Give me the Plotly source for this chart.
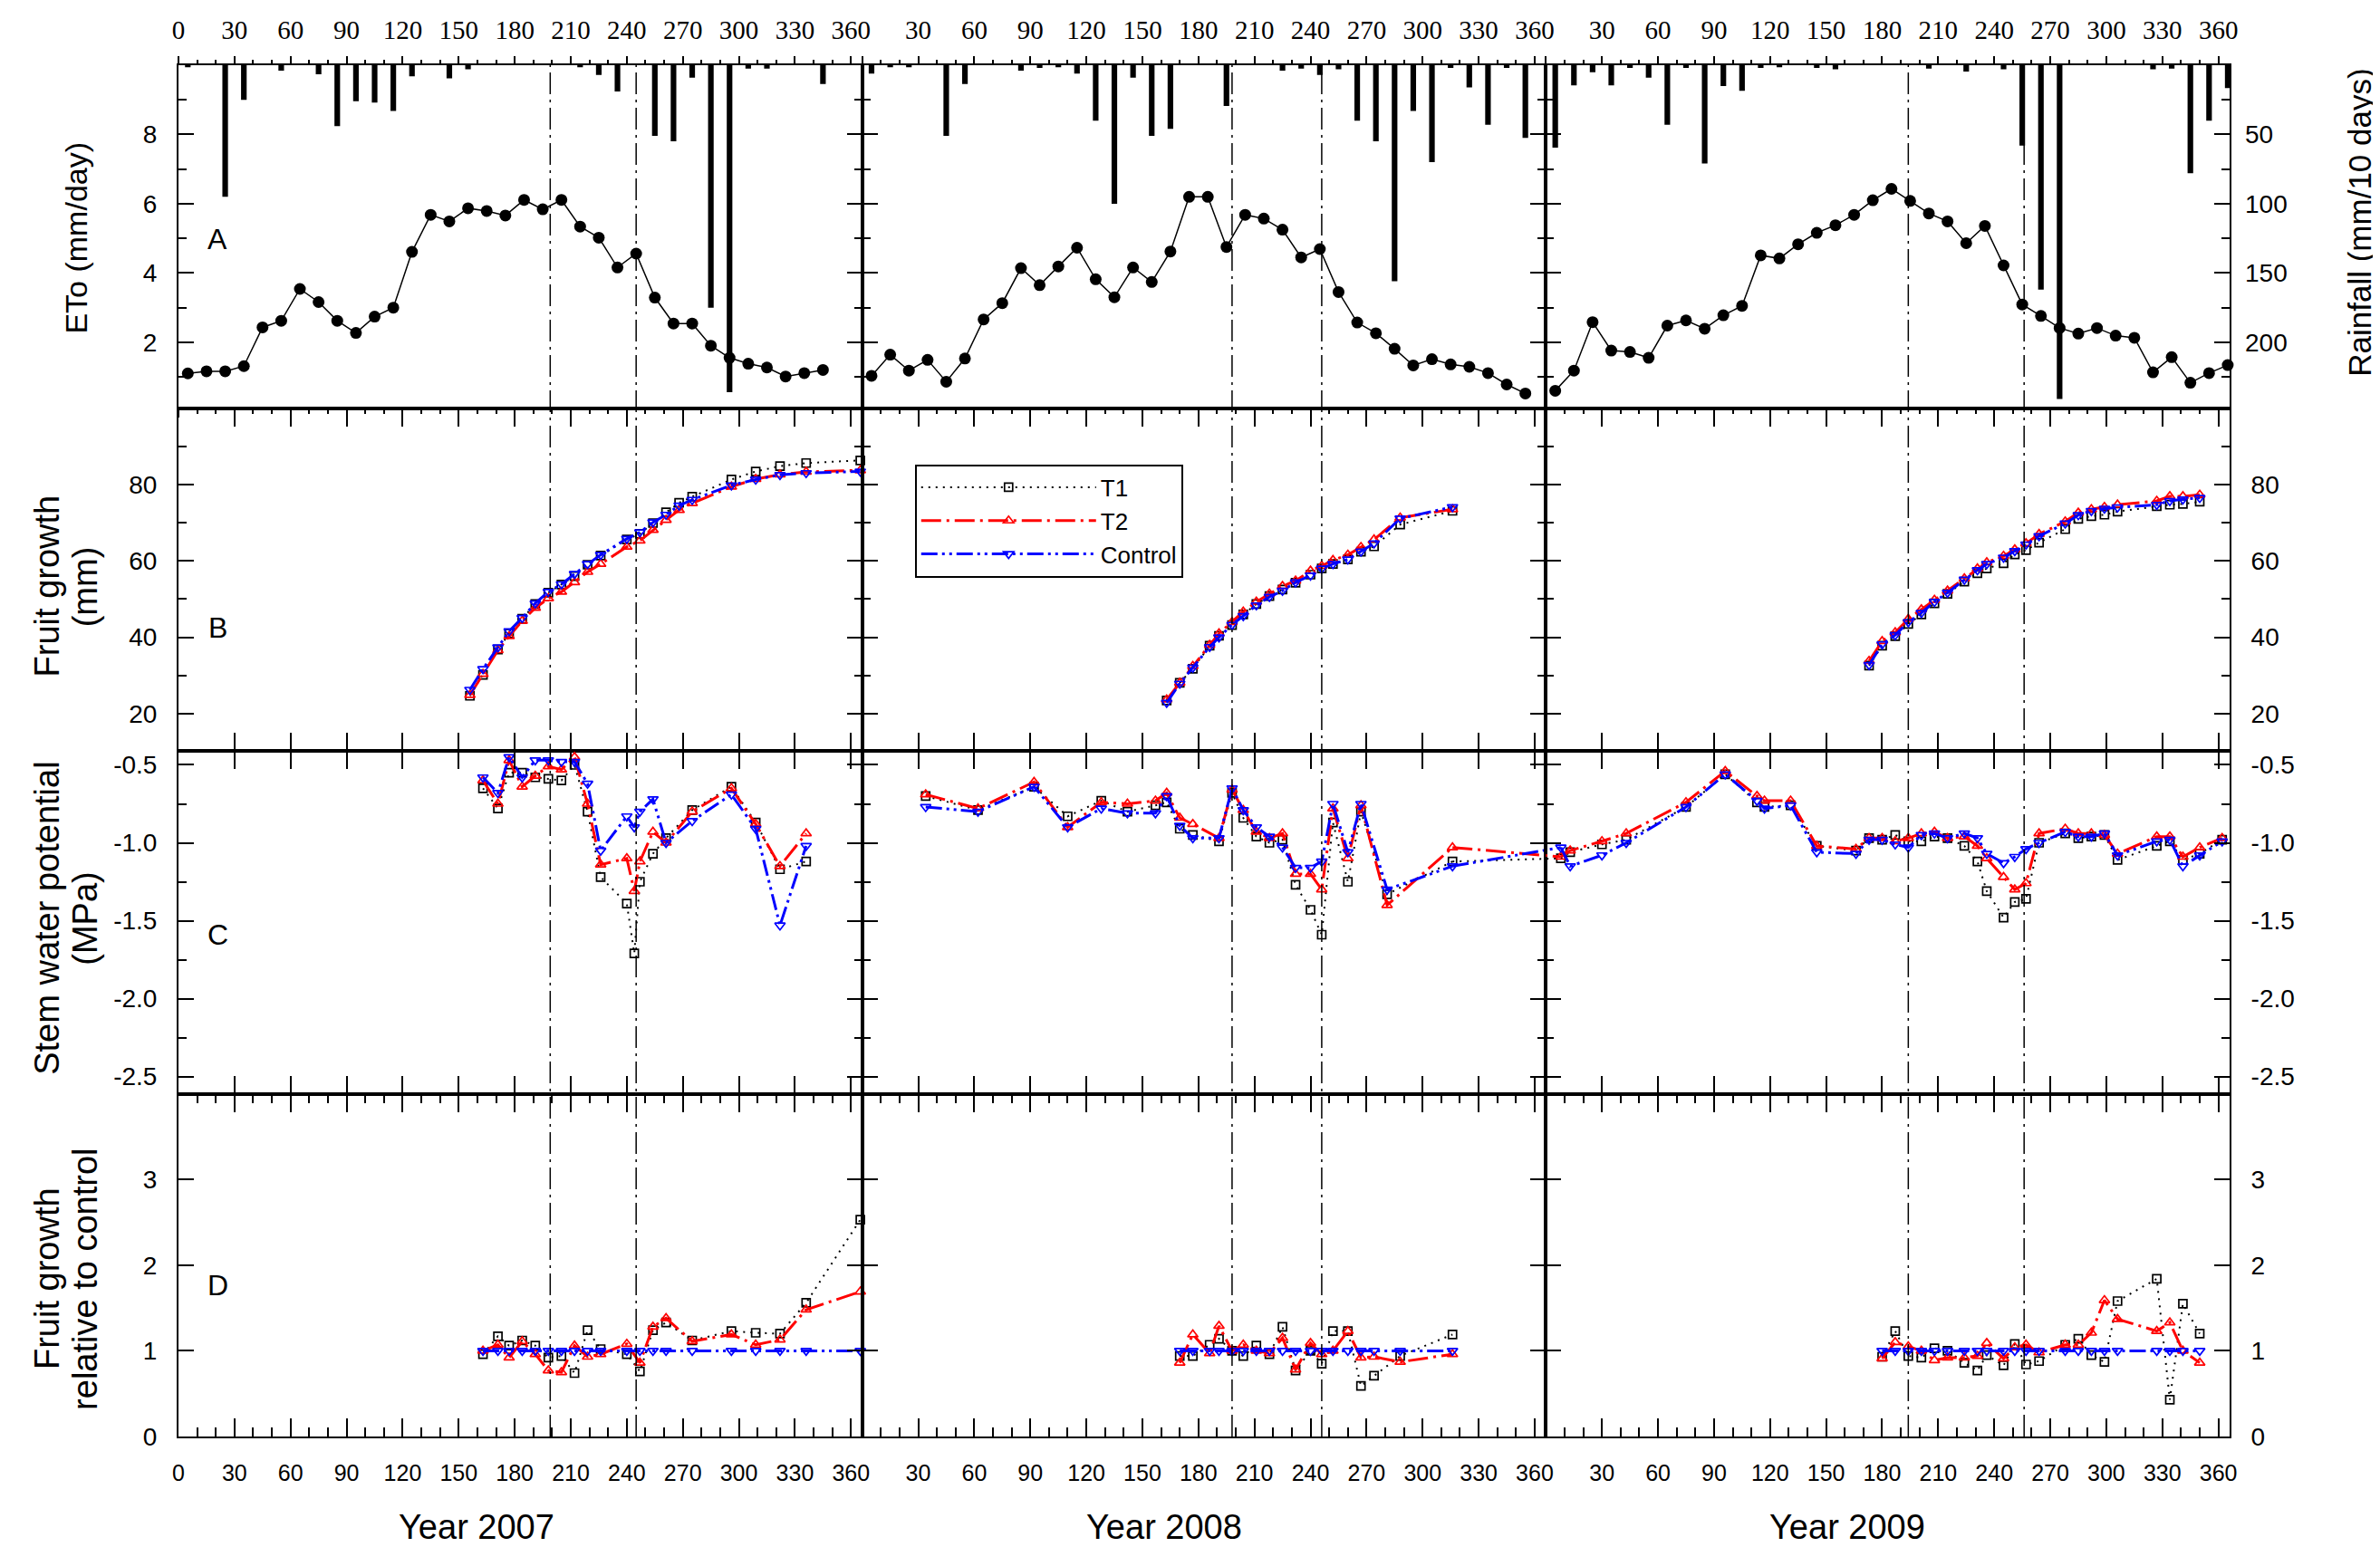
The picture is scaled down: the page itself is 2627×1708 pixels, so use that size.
import plotly.graph_objects as go

# ---------------- DATA ----------------
years = ["2007", "2008", "2009"]

# Panel A: reference evapotranspiration (mm/day), 10-day periods
eto_days_2007 = [5, 15, 25, 35, 45, 55, 65, 75, 85, 95, 105, 115, 125, 135, 145, 155, 165, 175, 185, 195,
                 205, 215, 225, 235, 245, 255, 265, 275, 285, 295, 305, 315, 325, 335, 345]
eto_2007 = [1.10, 1.16, 1.16, 1.31, 2.43, 2.62, 3.54, 3.16, 2.62, 2.27, 2.74, 3.00, 4.61, 5.68, 5.49, 5.87,
            5.79, 5.66, 6.11, 5.84, 6.11, 5.34, 5.02, 4.16, 4.56, 3.29, 2.54, 2.54, 1.90, 1.55, 1.38, 1.27,
            1.01, 1.11, 1.20]
eto_days_2008 = [5, 15, 25, 35, 45, 55, 65, 75, 85, 95, 105, 115, 125, 135, 145, 155, 165, 175, 185, 195,
                 205, 215, 225, 235, 245, 255, 265, 275, 285, 295, 305, 315, 325, 335, 345, 355]
eto_2008 = [1.03, 1.64, 1.18, 1.49, 0.86, 1.53, 2.66, 3.13, 4.14, 3.65, 4.19, 4.73, 3.82, 3.30, 4.16, 3.74,
            4.62, 6.20, 6.20, 4.75, 5.68, 5.57, 5.25, 4.45, 4.69, 3.45, 2.57, 2.26, 1.81, 1.33, 1.51, 1.36,
            1.29, 1.11, 0.78, 0.52]
eto_days_2009 = [5, 15, 25, 35, 45, 55, 65, 75, 85, 95, 105, 115, 125, 135, 145, 155, 165, 175, 185, 195,
                 205, 215, 225, 235, 245, 255, 265, 275, 285, 295, 305, 315, 325, 335, 345, 355, 365]
eto_2009 = [0.60, 1.18, 2.58, 1.76, 1.72, 1.55, 2.48, 2.63, 2.39, 2.78, 3.05, 4.51, 4.42, 4.83, 5.16, 5.38,
            5.68, 6.10, 6.43, 6.08, 5.72, 5.49, 4.86, 5.36, 4.22, 3.09, 2.76, 2.41, 2.25, 2.41, 2.19, 2.13,
            1.13, 1.57, 0.83, 1.11, 1.34]

# Panel A: rainfall (mm / 10 days)
rain_days_2007 = [5, 25, 35, 55, 75, 85, 95, 105, 115, 125, 145, 155, 215, 225, 235, 255, 265, 275, 285,
                  295, 305, 315, 345]
rain_2007 = [1.5, 95, 25, 4, 6.5, 44, 26, 27, 33, 8, 9.5, 3, 1.5, 7, 19, 51, 55, 9, 175, 236, 2.5, 2.5, 13.5]
rain_days_2008 = [5, 15, 25, 45, 55, 85, 95, 105, 115, 125, 135, 145, 155, 165, 195, 225, 235, 245, 255,
                  265, 275, 285, 295, 305, 315, 325, 335, 345, 355]
rain_2008 = [6, 1.5, 1.5, 51, 13.5, 4, 2, 1.5, 6, 40, 100, 9, 51, 46, 29.5, 4, 2.5, 7, 3, 40, 55, 156, 33,
             70, 2, 16, 43, 2, 52.5]
rain_days_2009 = [5, 15, 25, 35, 45, 55, 65, 75, 85, 95, 105, 115, 125, 145, 155, 205, 225, 245, 255, 265,
                  275, 325, 335, 345, 355, 365]
rain_2009 = [59.5, 14.5, 5, 14.5, 2, 9, 43, 2, 71, 15, 18.5, 2, 1.5, 2, 3, 2.5, 4.5, 3, 58, 162, 241, 3,
             2.5, 78, 40, 16.5]

# Panel B: fruit growth (mm)
fg_days_2007 = [156, 163, 171, 177, 184, 191, 198, 205, 212, 219, 226, 240, 247, 254, 261, 268, 275, 296,
                309, 322, 336, 365]
fg_t1_2007 = [24.7, 30.2, 36.8, 41.0, 44.9, 48.7, 51.7, 53.8, 56.0, 59.0, 61.4, 65.6, 67.1, 69.9, 72.7,
              75.2, 76.8, 81.3, 83.4, 84.8, 85.6, 86.3]
fg_t2_2007 = [24.9, 30.4, 36.6, 40.3, 44.3, 47.7, 50.2, 51.9, 54.4, 57.1, 59.2, 63.7, 65.3, 68.1, 70.7,
              73.3, 75.1, 79.4, 81.4, 82.6, 83.3, 83.7]
fg_c_2007 = [26.3, 31.7, 37.4, 41.6, 45.1, 48.9, 51.9, 53.9, 56.6, 59.2, 61.6, 65.8, 67.5, 70.1, 72.1,
             74.5, 76.0, 79.8, 81.3, 82.5, 83.0, 83.4]
fg_days_2008 = [163, 170, 177, 186, 191, 198, 204, 211, 218, 225, 232, 240, 246, 252, 260, 267, 274, 288, 316]
fg_t1_2008 = [23.5, 28.1, 31.8, 37.8, 40.4, 43.2, 46.0, 48.7, 50.8, 52.5, 54.3, 56.4, 58.0, 59.2, 60.4,
              62.4, 63.8, 69.5, 73.1]
fg_t2_2008 = [23.7, 28.1, 32.5, 38.0, 41.0, 44.0, 46.7, 49.3, 51.4, 53.4, 54.8, 57.4, 58.7, 60.2, 61.6,
              63.6, 65.6, 71.3, 73.5]
fg_c_2008 = [22.9, 27.9, 32.1, 37.5, 40.0, 43.3, 45.6, 48.4, 50.6, 52.2, 54.4, 56.2, 58.0, 59.2, 60.4,
             62.5, 64.6, 71.1, 74.1]
fg_days_2009 = [173, 180, 187, 194, 201, 208, 215, 224, 231, 236, 245, 251, 257, 264, 278, 285, 292, 299,
                306, 327, 334, 341, 350]
fg_t1_2009 = [32.6, 37.8, 40.3, 43.5, 46.0, 48.9, 51.4, 54.6, 56.8, 58.0, 59.4, 61.7, 62.8, 64.8, 68.3,
              71.0, 71.7, 72.1, 72.9, 74.3, 74.7, 74.9, 75.5]
fg_t2_2009 = [33.8, 39.0, 41.3, 44.8, 47.3, 49.8, 52.2, 55.4, 58.0, 59.6, 61.3, 63.0, 64.6, 67.0, 70.3,
              72.6, 73.5, 74.1, 74.7, 75.7, 76.9, 76.9, 77.3]
fg_c_2009 = [32.8, 38.2, 40.6, 44.0, 46.4, 49.3, 51.7, 55.1, 57.6, 59.2, 60.9, 62.6, 64.3, 66.5, 69.8,
             72.0, 73.1, 73.7, 74.0, 74.7, 75.7, 76.1, 76.5]

# Panel C: stem water potential (MPa)
swp_days_2007 = [163, 171, 177, 184, 191, 198, 205, 212, 219, 226, 240, 244, 247, 254, 261, 275, 296, 309,
                 322, 336]
swp_t1_2007 = [-0.65, -0.78, -0.55, -0.55, -0.58, -0.59, -0.60, -0.50, -0.80, -1.22, -1.39, -1.71, -1.25,
               -1.07, -0.97, -0.79, -0.64, -0.87, -1.17, -1.12]
swp_t2_2007 = [-0.60, -0.75, -0.47, -0.64, -0.57, -0.51, -0.53, -0.45, -0.75, -1.14, -1.10, -1.31, -1.12,
               -0.93, -1.00, -0.80, -0.65, -0.88, -1.15, -0.94]
swp_c_2007 = [-0.58, -0.68, -0.45, -0.58, -0.47, -0.47, -0.48, -0.48, -0.62, -1.05, -0.83, -0.90, -0.80,
              -0.72, -1.00, -0.86, -0.69, -0.91, -1.53, -1.02]
swp_days_2008 = [34, 62, 92, 110, 128, 142, 157, 163, 170, 177, 191, 198, 204, 211, 218, 225, 232, 240,
                 246, 252, 260, 267, 281, 316]
swp_t1_2008 = [-0.70, -0.79, -0.64, -0.83, -0.73, -0.80, -0.76, -0.74, -0.91, -0.95, -0.99, -0.68, -0.84,
               -0.96, -1.00, -0.98, -1.27, -1.43, -1.59, -0.87, -1.25, -0.80, -1.33, -1.12]
swp_t2_2008 = [-0.69, -0.78, -0.61, -0.90, -0.74, -0.75, -0.73, -0.68, -0.84, -0.88, -0.97, -0.66, -0.79,
               -0.93, -0.97, -0.94, -1.20, -1.20, -1.30, -0.78, -1.10, -0.76, -1.40, -1.03]
swp_c_2008 = [-0.77, -0.80, -0.64, -0.90, -0.78, -0.81, -0.81, -0.70, -0.89, -0.97, -0.97, -0.65, -0.79,
              -0.90, -0.96, -1.03, -1.16, -1.16, -1.12, -0.75, -1.06, -0.75, -1.30, -1.15]
swp_days_2009 = [8, 13, 30, 43, 75, 96, 113, 117, 131, 145, 166, 173, 180, 187, 194, 201, 208, 215, 224,
                 231, 236, 245, 251, 257, 264, 278, 285, 292, 299, 306, 327, 334, 341, 350, 362]
swp_t1_2009 = [-1.10, -1.06, -1.01, -0.98, -0.77, -0.56, -0.74, -0.77, -0.76, -1.02, -1.05, -0.97, -0.98,
               -0.95, -0.99, -0.99, -0.96, -0.97, -1.02, -1.12, -1.31, -1.48, -1.38, -1.36, -1.00, -0.94,
               -0.97, -0.96, -0.95, -1.11, -1.02, -0.99, -1.11, -1.07, -0.98]
swp_t2_2009 = [-1.09, -1.05, -0.99, -0.94, -0.74, -0.54, -0.70, -0.73, -0.73, -1.02, -1.04, -0.97, -0.97,
               -0.99, -0.97, -0.94, -0.93, -0.97, -0.96, -1.02, -1.10, -1.22, -1.30, -1.26, -0.94, -0.91,
               -0.94, -0.94, -0.95, -1.07, -0.96, -0.96, -1.09, -1.03, -0.97]
swp_c_2009 = [-1.03, -1.15, -1.08, -1.00, -0.77, -0.56, -0.73, -0.78, -0.76, -1.06, -1.07, -0.98, -0.98,
              -1.01, -1.03, -0.95, -0.94, -0.97, -0.94, -0.97, -1.07, -1.13, -1.09, -1.04, -1.00, -0.93,
              -0.96, -0.96, -0.94, -1.08, -0.99, -0.98, -1.15, -1.08, -0.99]

# Panel D: fruit growth relative to control
rel_days_2007 = [163, 171, 177, 184, 191, 198, 205, 212, 219, 226, 240, 247, 254, 261, 275, 296, 309, 322,
                 336, 365]
rel_t1_2007 = [0.96, 1.17, 1.06, 1.12, 1.06, 0.92, 0.94, 0.74, 1.24, 1.02, 0.96, 0.76, 1.24, 1.33, 1.12,
               1.23, 1.21, 1.20, 1.56, 2.53]
rel_t2_2007 = [1.00, 1.07, 0.92, 1.11, 0.96, 0.77, 0.75, 1.06, 0.93, 0.96, 1.08, 0.86, 1.28, 1.38, 1.11,
               1.19, 1.07, 1.13, 1.48, 1.69]
rel_c_2007 = [1.0, 1.0, 1.0, 1.0, 1.0, 1.0, 1.0, 1.0, 1.0, 1.0, 1.0, 1.0, 1.0, 1.0, 1.0, 1.0, 1.0, 1.0,
              1.0, 1.0]
rel_days_2008 = [170, 177, 186, 191, 198, 204, 211, 218, 225, 232, 240, 246, 252, 260, 267, 274, 288, 316]
rel_t1_2008 = [0.94, 0.94, 1.07, 1.14, 1.00, 0.94, 1.06, 0.96, 1.28, 0.77, 1.00, 0.85, 1.23, 1.23, 0.59,
               0.71, 0.94, 1.19]
rel_t2_2008 = [0.86, 1.19, 0.97, 1.29, 1.00, 1.07, 1.00, 0.97, 1.15, 0.78, 1.09, 0.96, 1.00, 1.23, 0.92,
               0.93, 0.87, 0.96]
rel_c_2008 = [1.0, 1.0, 1.0, 1.0, 1.0, 1.0, 1.0, 1.0, 1.0, 1.0, 1.0, 1.0, 1.0, 1.0, 1.0, 1.0, 1.0, 1.0]
rel_days_2009 = [180, 187, 194, 201, 208, 215, 224, 231, 236, 245, 251, 257, 264, 278, 285, 292, 299, 306,
                 327, 334, 341, 350]
rel_t1_2009 = [0.93, 1.23, 0.94, 0.92, 1.03, 1.00, 0.86, 0.77, 0.95, 0.83, 1.08, 0.84, 0.88, 1.07, 1.14,
               0.95, 0.87, 1.58, 1.84, 0.43, 1.55, 1.20]
rel_t2_2009 = [0.91, 1.10, 1.05, 1.00, 0.89, 0.92, 0.92, 0.94, 1.09, 0.91, 1.04, 1.07, 0.98, 1.07, 1.07,
               1.21, 1.59, 1.37, 1.23, 1.33, 1.00, 0.86]
rel_c_2009 = [1.0, 1.0, 1.0, 1.0, 1.0, 1.0, 1.0, 1.0, 1.0, 1.0, 1.0, 1.0, 1.0, 1.0, 1.0, 1.0, 1.0, 1.0,
              1.0, 1.0, 1.0, 1.0]

# Water-stress period limits (day of year)
stress_days = {"2007": [199, 245], "2008": [198, 246], "2009": [194, 256]}

day_ticks = [0, 30, 60, 90, 120, 150, 180, 210, 240, 270, 300, 330, 360]
year_len = 366

treat_names = ["T1", "T2", "Control"]

# ---------------- STYLE ----------------
SANS = "Liberation Sans, Arial, sans-serif"
SERIF = "Liberation Serif, Times New Roman, serif"
styles = {
    "T1": dict(line=dict(color="black", width=2, dash="2px,6px"),
               marker=dict(symbol="square-open", size=9, color="black", line=dict(width=1.7))),
    "T2": dict(line=dict(color="#ff0000", width=3, dash="22px,6px,3px,6px"),
               marker=dict(symbol="triangle-up-open", size=10, color="#ff0000", line=dict(width=1.7))),
    "Control": dict(line=dict(color="#0000ff", width=3, dash="18px,5px,3px,5px,3px,5px"),
                    marker=dict(symbol="triangle-down-open", size=10, color="#0000ff", line=dict(width=1.7))),
}

eto = {"2007": (eto_days_2007, eto_2007), "2008": (eto_days_2008, eto_2008), "2009": (eto_days_2009, eto_2009)}
rain = {"2007": (rain_days_2007, rain_2007), "2008": (rain_days_2008, rain_2008), "2009": (rain_days_2009, rain_2009)}
fg = {"2007": (fg_days_2007, [fg_t1_2007, fg_t2_2007, fg_c_2007]),
      "2008": (fg_days_2008, [fg_t1_2008, fg_t2_2008, fg_c_2008]),
      "2009": (fg_days_2009, [fg_t1_2009, fg_t2_2009, fg_c_2009])}
swp = {"2007": (swp_days_2007, [swp_t1_2007, swp_t2_2007, swp_c_2007]),
       "2008": (swp_days_2008, [swp_t1_2008, swp_t2_2008, swp_c_2008]),
       "2009": (swp_days_2009, [swp_t1_2009, swp_t2_2009, swp_c_2009])}
rel = {"2007": (rel_days_2007, [rel_t1_2007, rel_t2_2007, rel_c_2007]),
       "2008": (rel_days_2008, [rel_t1_2008, rel_t2_2008, rel_c_2008]),
       "2009": (rel_days_2009, [rel_t1_2009, rel_t2_2009, rel_c_2009])}

fig = go.Figure()


def ax(k):
    return ("x" if k == 1 else f"x{k}"), ("y" if k == 1 else f"y{k}")


for c, yr in enumerate(years):
    # Row A
    xa, ya = ax(c + 1)
    fig.add_trace(go.Bar(x=rain[yr][0], y=rain[yr][1], width=3.0, marker=dict(color="black", line=dict(width=0)),
                         xaxis=xa, yaxis=f"y{13 + c}", showlegend=False))
    fig.add_trace(go.Scatter(x=eto[yr][0], y=eto[yr][1], mode="lines+markers", xaxis=xa, yaxis=ya,
                             line=dict(color="black", width=1.5),
                             marker=dict(symbol="circle", size=13, color="black"), showlegend=False,
                             cliponaxis=False))
    # Rows B, C, D
    for r, data in ((1, fg), (2, swp), (3, rel)):
        xk, yk = ax(r * 3 + c + 1)
        days, series = data[yr]
        for name, vals in zip(treat_names, series):
            fig.add_trace(go.Scatter(x=days, y=vals, mode="lines+markers", name=name, xaxis=xk, yaxis=yk,
                                     line=styles[name]["line"], marker=styles[name]["marker"],
                                     showlegend=(r == 1 and c == 0), legendgroup=name, cliponaxis=False))

# Stem water potential record is continuous from 2008 into 2009: connecting segments
d08, s08 = swp["2008"]
d09, s09 = swp["2009"]
for name, v08, v09 in zip(treat_names, s08, s09):
    for k, xs in ((8, [d08[-1], d09[0] + year_len]), (9, [d08[-1] - year_len, d09[0]])):
        xk, yk = ax(k)
        fig.add_trace(go.Scatter(x=xs, y=[v08[-1], v09[0]], mode="lines", xaxis=xk, yaxis=yk,
                                 line=styles[name]["line"], showlegend=False, hoverinfo="skip"))

# ---------------- AXES ----------------
col_dom = [[0, 1 / 3], [1 / 3, 2 / 3], [2 / 3, 1]]
row_dom = [[0.75, 1], [0.5, 0.75], [0.25, 0.5], [0, 0.25]]

y_specs = [
    dict(range=[0.1, 10], tickvals=[2, 4, 6, 8], minor=dict(tickvals=[1, 3, 5, 7, 9])),
    dict(range=[10.3, 100], tickvals=[20, 40, 60, 80], minor=dict(tickvals=[30, 50, 70, 90])),
    dict(range=[-2.61, -0.41], tickvals=[-0.5, -1.0, -1.5, -2.0, -2.5],
         ticktext=["-0.5", "-1.0", "-1.5", "-2.0", "-2.5"],
         minor=dict(tickvals=[-0.75, -1.25, -1.75, -2.25])),
    dict(range=[0, 4], tickvals=[0, 1, 2, 3]),
]

layout_axes = {}
for r in range(4):
    for c in range(3):
        k = r * 3 + c + 1
        xname = "xaxis" if k == 1 else f"xaxis{k}"
        yname = "yaxis" if k == 1 else f"yaxis{k}"
        xk, yk = ax(k)
        ticktext = [str(t) if (t != 0 or c == 0) else "" for t in day_ticks]
        xa = dict(domain=col_dom[c], range=[0, year_len], anchor=yk, showgrid=False, zeroline=False,
                  showline=True, linecolor="black", linewidth=2, mirror="ticks", automargin=False,
                  tickvals=day_ticks, ticktext=ticktext, tickcolor="black", tickwidth=2)
        if r == 0:
            xa.update(side="top", ticks="outside", ticklen=8, showticklabels=True,
                      tickfont=dict(family=SERIF, size=29, color="black"), ticklabelstandoff=7,
                      minor=dict(dtick=10, tick0=0, ticks="outside", ticklen=4, tickwidth=1.5,
                                 tickcolor="black"))
        elif r == 3:
            xa.update(side="bottom", ticks="inside", ticklen=20, showticklabels=True,
                      tickfont=dict(family=SANS, size=25, color="black"), ticklabelstandoff=17,
                      minor=dict(dtick=10, tick0=0, ticks="inside", ticklen=10, tickwidth=1.5,
                                 tickcolor="black"))
        else:
            xa.update(side="bottom", ticks="inside", ticklen=20, showticklabels=False)
        layout_axes[xname] = xa

        spec = y_specs[r]
        ya = dict(domain=row_dom[r], range=spec["range"], anchor=xk, showgrid=False, zeroline=False,
                  showline=True, linecolor="black", linewidth=2, mirror="ticks", automargin=False,
                  tickvals=spec["tickvals"], ticks="inside", ticklen=17, tickwidth=2, tickcolor="black",
                  tickfont=dict(family=SANS, size=28, color="black"), ticklabelstandoff=16)
        if "ticktext" in spec:
            ya["ticktext"] = spec["ticktext"]
        if "minor" in spec:
            ya["minor"] = dict(tickvals=spec["minor"]["tickvals"], ticks="inside", ticklen=9,
                               tickwidth=1.5, tickcolor="black")
        if c == 0:
            ya.update(side="left", showticklabels=True)
        elif c == 1:
            ya.update(side="left", showticklabels=False)
        else:
            ya.update(side="right", showticklabels=(r != 0))
        layout_axes[yname] = ya

# Rainfall axes (reversed, overlaying ETo)
for c in range(3):
    xk, yk = ax(c + 1)
    ra = dict(overlaying=yk, anchor=xk, range=[247.5, 0], showgrid=False, zeroline=False, showline=False,
              automargin=False)
    if c == 2:
        ra.update(side="right", tickvals=[50, 100, 150, 200], ticks="inside", ticklen=17, tickwidth=2,
                  tickcolor="black", showticklabels=True, ticklabelstandoff=16,
                  tickfont=dict(family=SANS, size=28, color="black"))
    else:
        ra.update(side="right", showticklabels=False, ticks="")
    layout_axes[f"yaxis{13 + c}"] = ra

# Stress-period vertical lines
shapes = []
for c, yr in enumerate(years):
    xk, _ = ax(10 + c)
    for d in stress_days[yr]:
        shapes.append(dict(type="line", xref=xk, yref="paper", x0=d, x1=d, y0=0, y1=1,
                           line=dict(color="black", width=1.5, dash="24px,6px,3px,6px")))

# Annotations
ann = []


def vtext(txt, x, y, size):
    ann.append(dict(text=txt, xref="paper", yref="paper", x=x, y=y, textangle=-90, showarrow=False,
                    font=dict(family=SANS, size=size, color="black"), xanchor="center", yanchor="middle"))


vtext("ETo (mm/day)", -0.05, 0.874, 34)
for l1, l2, yc in (("Fruit growth", "(mm)", 0.620), ("Stem water potential", "(MPa)", 0.378),
                   ("Fruit growth", "relative to control", 0.115)):
    vtext(l1, -0.064, yc, 38)
    vtext(l2, -0.0455, yc, 38)
vtext("Rainfall (mm/10 days)", 1.063, 0.885, 35)

for letter, yc in (("A", 0.873), ("B", 0.590), ("C", 0.366), ("D", 0.110)):
    ann.append(dict(text=letter, xref="paper", yref="paper", x=0.019, y=yc, showarrow=False,
                    font=dict(family=SANS, size=32, color="black"), xanchor="center", yanchor="middle"))
for yr, xc in zip(years, (0.1455, 0.4805, 0.8135)):
    ann.append(dict(text=f"Year {yr}", xref="paper", yref="paper", x=xc, y=-0.066, showarrow=False,
                    font=dict(family=SANS, size=38, color="black"), xanchor="center", yanchor="middle"))

fig.update_layout(
    width=2627, height=1708,
    margin=dict(l=189, r=174, t=64, b=130),
    paper_bgcolor="white", plot_bgcolor="white",
    showlegend=True,
    legend=dict(x=0.359, y=0.709, xanchor="left", yanchor="top", bordercolor="black", borderwidth=2,
                bgcolor="white", font=dict(family=SANS, size=26, color="black"), itemwidth=193,
                tracegroupgap=0),
    shapes=shapes, annotations=ann,
    **layout_axes,
)

fig.write_html("out.html")
